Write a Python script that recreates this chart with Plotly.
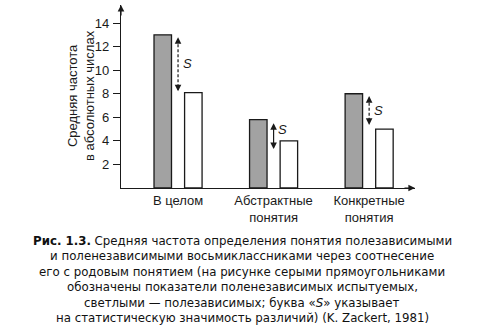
import plotly.graph_objects as go

# Data
categories = ["В целом", "Абстрактные<br>понятия", "Конкретные<br>понятия"]
field_independent = [13.0, 5.8, 8.0]   # grey bars
field_dependent = [8.1, 4.0, 5.0]      # white bars
s_top = [12.8, 5.5, 7.8]               # significance arrows: upper end
s_bottom = [8.2, 3.3, 5.35]            # significance arrows: lower end
s_label_y = [10.6, 4.95, 6.55]
y_ticks = [2, 4, 6, 8, 10, 12, 14]
caption_lines = [
    "<b>Рис. 1.3.</b> Средняя частота определения понятия полезависимыми",
    "и поленезависимыми восьмиклассниками через соотнесение",
    "его с родовым понятием (на рисунке серыми прямоугольниками",
    "обозначены показатели поленезависимых испытуемых,",
    "светлыми — полезависимых; буква «<i>S</i>» указывает",
    "на статистическую значимость различий) (K. Zackert, 1981)",
]

W, H = 477, 328
ML, MR, MT, MB = 121, 62, 5, 140
XR = [-0.597, 2.48]
YR = [0, 15.53]
BW = 0.183
SHIFT = 0.16

ink = "#1a1a1a"
fig = go.Figure()
fig.add_trace(go.Bar(x=categories, y=field_independent, width=BW, offset=-SHIFT - BW / 2,
                     marker=dict(color="#a2a2a2", line=dict(color=ink, width=1.3)),
                     showlegend=False))
fig.add_trace(go.Bar(x=categories, y=field_dependent, width=BW, offset=SHIFT - BW / 2,
                     marker=dict(color="white", line=dict(color=ink, width=1.3)),
                     showlegend=False))

shapes = []
annotations = []
dashes = ["dash", "solid", "dash"]
for i in range(len(categories)):
    x = i
    shapes.append(dict(type="line", xref="x", yref="y", x0=x, x1=x,
                       y0=s_bottom[i] + 0.35, y1=s_top[i] - 0.35,
                       line=dict(color=ink, width=1.2, dash="3px,2px" if dashes[i] == "dash" else "solid")))
    for yv, dy in ((s_top[i], 7), (s_bottom[i], -7)):
        annotations.append(dict(x=x, y=yv, xref="x", yref="y", text="", showarrow=True,
                                ax=0, ay=dy, axref="pixel", ayref="pixel",
                                arrowhead=2, arrowsize=1.1, arrowwidth=1.2, arrowcolor=ink))
    annotations.append(dict(x=x, y=s_label_y[i], xref="x", yref="y", text="<i>S</i>",
                            showarrow=False, xshift=9, font=dict(size=13, color=ink,
                                                                 family="Liberation Sans")))

# Axis arrowheads
annotations.append(dict(x=XR[0], y=YR[1], xref="x", yref="y", text="", showarrow=True,
                        ax=0, ay=12, arrowhead=2, arrowsize=1.1, arrowwidth=1.2, arrowcolor=ink))
annotations.append(dict(x=XR[1], y=0, xref="x", yref="y", text="", showarrow=True,
                        ax=-12, ay=0, arrowhead=2, arrowsize=1.1, arrowwidth=1.2, arrowcolor=ink))

# Y axis title
pw = W - ML - MR
ph = H - MT - MB
annotations.append(dict(x=(81 - ML) / pw, y=(H - MB - 96) / ph, xref="paper", yref="paper",
                        text="Средняя частота<br>в абсолютных числах", textangle=-90,
                        showarrow=False, xanchor="center", yanchor="middle",
                        font=dict(size=13, color=ink, family="Liberation Sans")))

# Caption, one annotation per line
for k, line in enumerate(caption_lines):
    yc = 241 + k * 15.4
    annotations.append(dict(x=(242 - ML) / pw, y=(H - MB - yc) / ph, xref="paper", yref="paper",
                            text=line, showarrow=False, xanchor="center", yanchor="middle",
                            font=dict(size=11.8, color="#111111", family="DejaVu Sans")))

fig.update_layout(
    width=W, height=H, margin=dict(l=ML, r=MR, t=MT, b=MB),
    paper_bgcolor="white", plot_bgcolor="white",
    barmode="overlay",
    shapes=shapes, annotations=annotations,
    xaxis=dict(range=XR, showgrid=False, zeroline=False, showline=True, linecolor=ink,
               linewidth=1.3, ticks="", tickfont=dict(size=13, color=ink, family="Liberation Sans")),
    yaxis=dict(range=YR, tickvals=y_ticks, showgrid=False, zeroline=False, showline=True,
               linecolor=ink, linewidth=1.3, ticks="outside", ticklen=7, tickwidth=1.2,
               tickcolor=ink, ticklabelstandoff=1,
               tickfont=dict(size=13, color=ink, family="Liberation Sans")),
)

fig.write_html("out.html")
